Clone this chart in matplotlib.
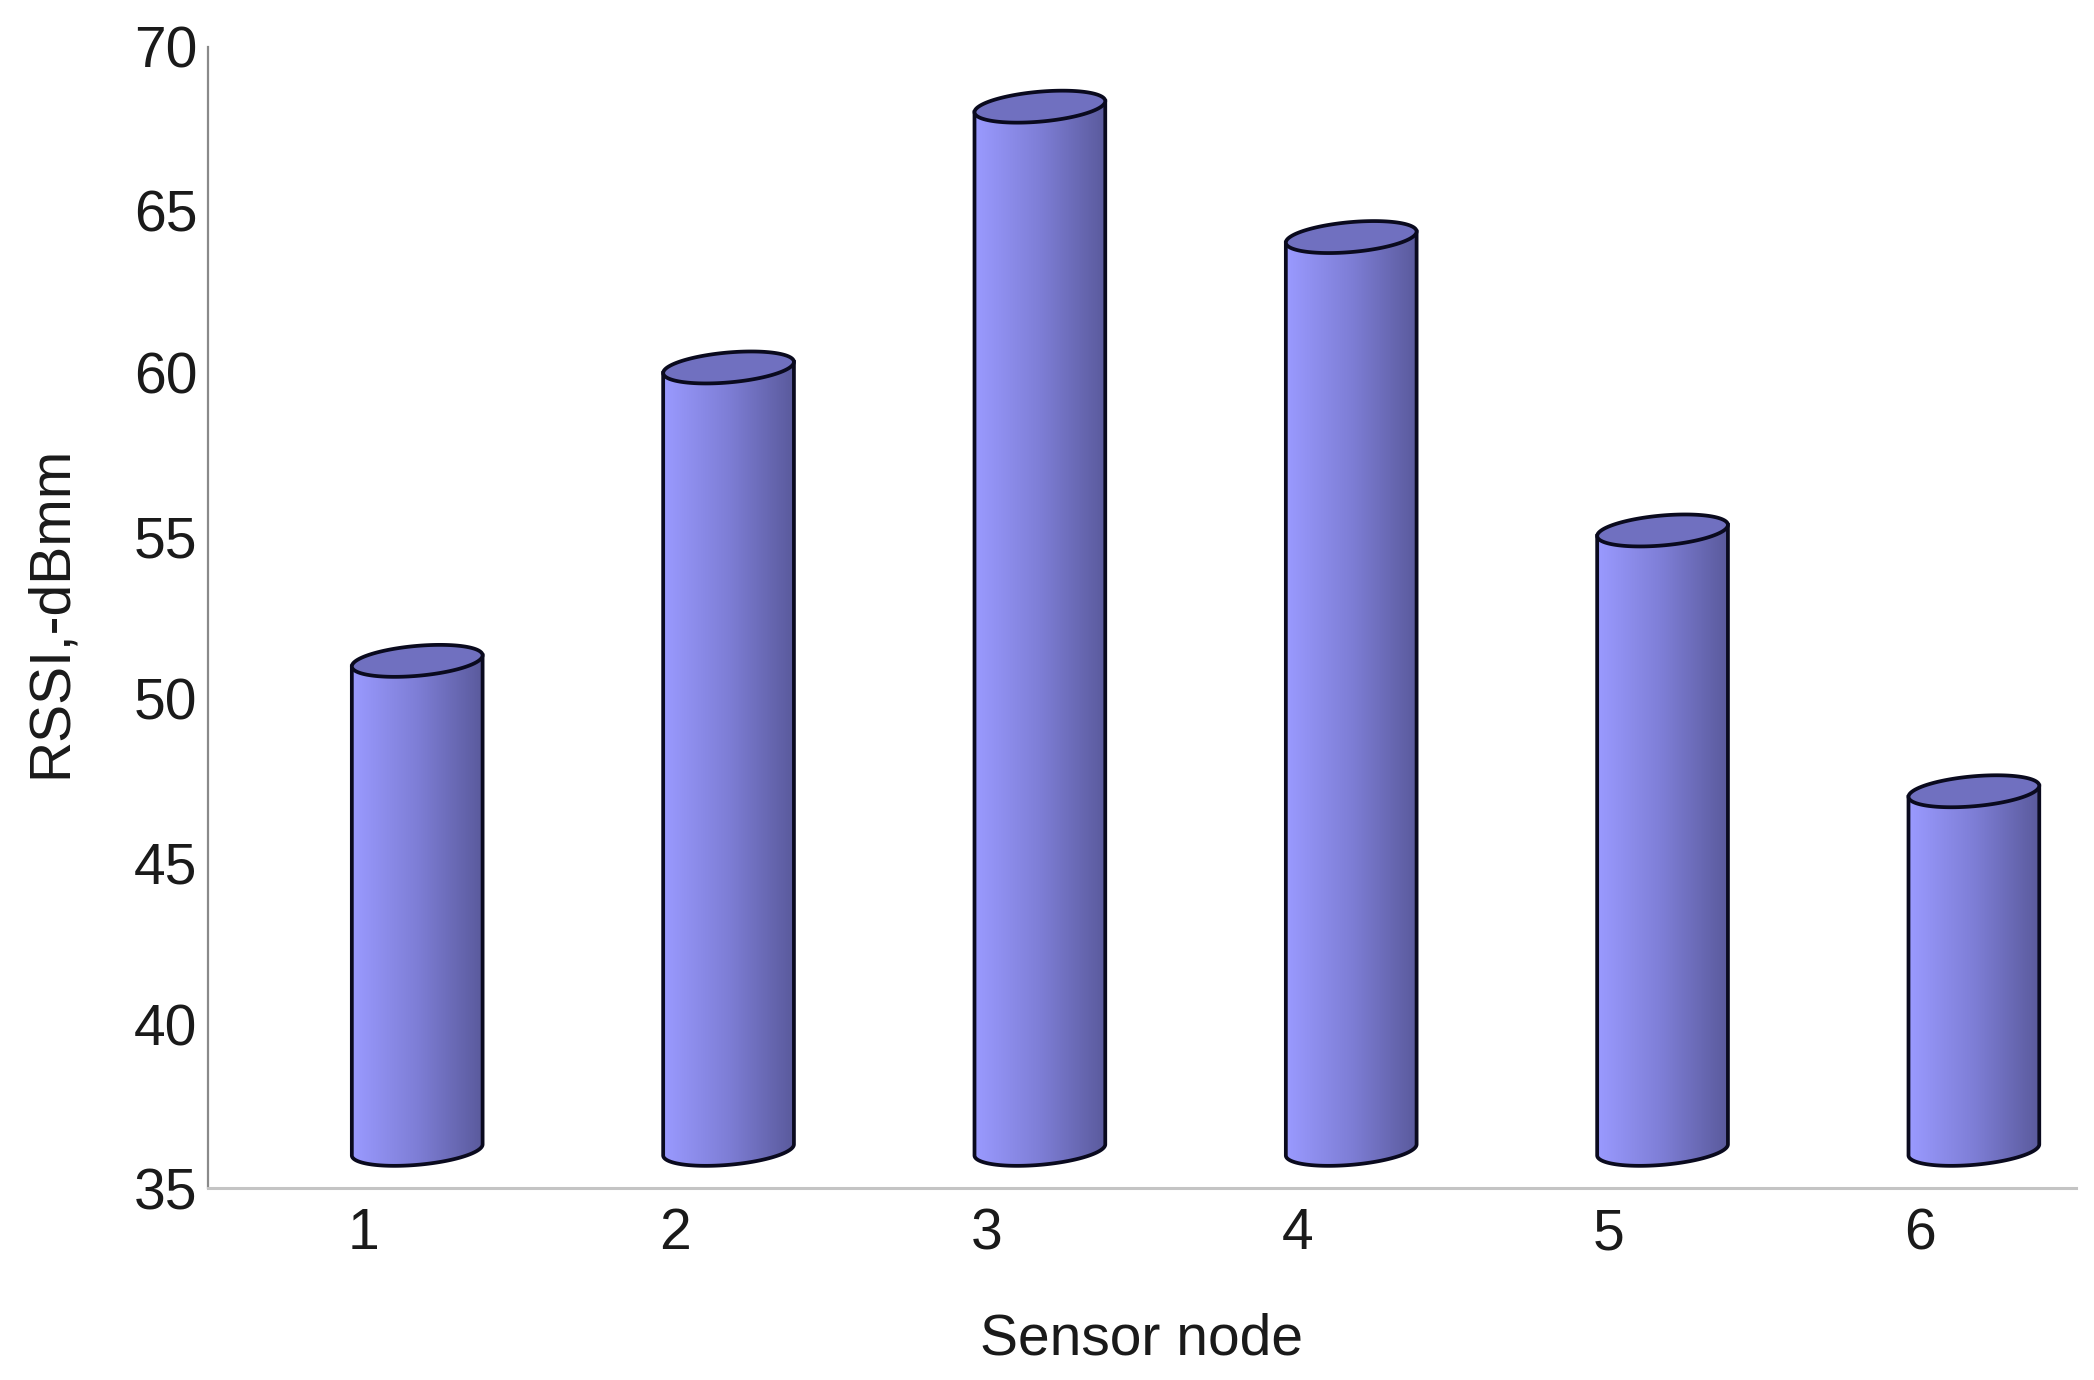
import numpy as np
import matplotlib.pyplot as plt
from matplotlib.colors import LinearSegmentedColormap
from matplotlib.patches import Polygon

nodes = [1, 2, 3, 4, 5, 6]
rssi = [51, 60, 68, 64, 55, 47]
yticks = [35, 40, 45, 50, 55, 60, 65, 70]
base = 36

bar_offset = 0.172
bar_width = 0.42
tilt = 0.34
minor = 0.46

plt.rcParams['font.family'] = ['Liberation Sans', 'DejaVu Sans']
text_color = '#1a1a1a'
outline = '#0a0a1e'
top_color = '#7070c0'
shade = LinearSegmentedColormap.from_list('shade', ['#9a9aff', '#7e7ed6', '#5a5a9c'])


def ellipse_points(xc, yc, t):
    a = bar_width / 2
    x = xc + a * np.cos(t)
    y = yc + tilt / 2 * np.cos(t) + minor * np.sin(t)
    return x, y


def draw_cylinder(ax, node, value):
    xc = node + bar_offset
    x0, x1 = xc - bar_width / 2, xc + bar_width / 2
    yc_top = value + tilt / 2
    yc_low = base + tilt / 2

    # body outline: down the left, round the lower arc, up the right
    t_low = np.linspace(np.pi, 2 * np.pi, 80)
    xl, yl = ellipse_points(xc, yc_low, t_low)
    t_top = np.linspace(0, np.pi, 80)
    xt, yt = ellipse_points(xc, yc_top, t_top)
    body_xy = np.column_stack([np.r_[xl, xt], np.r_[yl, yt]])

    grad = ax.imshow(np.linspace(0, 1, 256).reshape(1, -1), cmap=shade, aspect='auto',
                     extent=(x0, x1, base - 1, value + 1), interpolation='bilinear', zorder=2)
    clip = Polygon(body_xy, closed=True, transform=ax.transData)
    grad.set_clip_path(clip)

    ax.plot(np.r_[x0, xl, x1], np.r_[value, yl, value + tilt], color=outline, lw=2.7,
            zorder=3, solid_joinstyle='round')

    t_full = np.linspace(0, 2 * np.pi, 160)
    xe, ye = ellipse_points(xc, yc_top, t_full)
    ax.add_patch(Polygon(np.column_stack([xe, ye]), closed=True, facecolor=top_color,
                         edgecolor=outline, lw=2.7, zorder=4))


fig = plt.figure(figsize=(20.94, 13.8), dpi=100)
ax = fig.add_axes([208 / 2094, 1 - 1188 / 1380, (2076 - 208) / 2094, (1188 - 47) / 1380])

for node, value in zip(nodes, rssi):
    draw_cylinder(ax, node, value)

ax.set_xlim(0.5, 6.5)
ax.set_ylim(35, 70)
ax.set_xticks(nodes)
ax.set_yticks(yticks)
ax.tick_params(axis='both', length=0, labelsize=41, labelcolor=text_color)
ax.tick_params(axis='x', pad=14)
ax.tick_params(axis='y', pad=7.5)

for side in ['top', 'right']:
    ax.spines[side].set_visible(False)
ax.spines['left'].set_color('#8a8a8a')
ax.spines['left'].set_linewidth(1.6)
ax.spines['bottom'].set_color('#c4c4c4')
ax.spines['bottom'].set_linewidth(2.2)

ax.set_xlabel('Sensor node', fontsize=41, color=text_color, labelpad=37)
ax.set_ylabel('RSSI,-dBmm', fontsize=41, color=text_color, labelpad=40.5, y=0.505)

fig.savefig('out.png', dpi=100)
